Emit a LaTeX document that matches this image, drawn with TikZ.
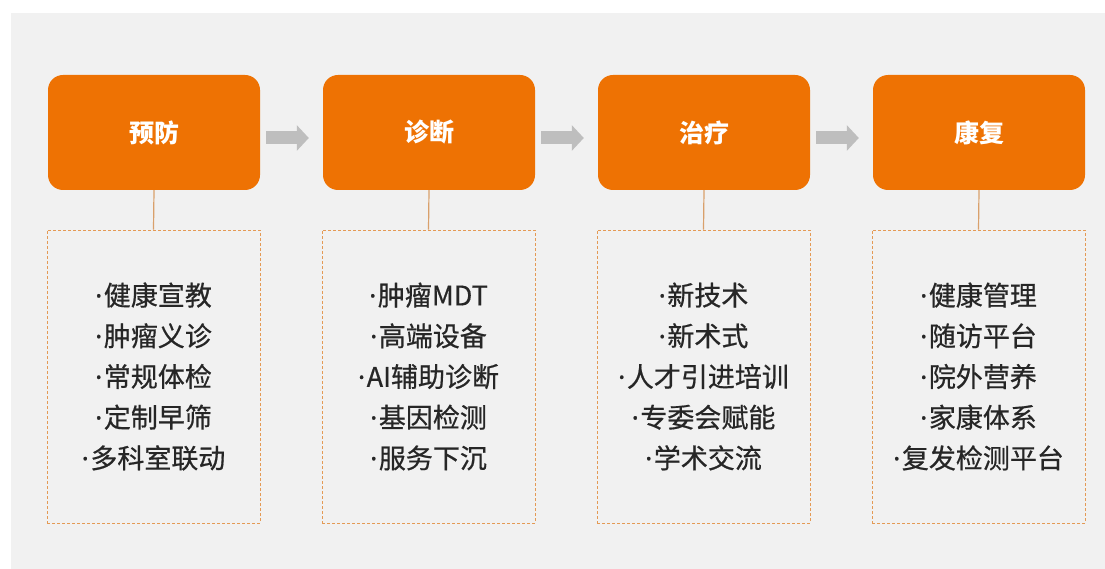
\documentclass[tikz,border=0pt]{standalone}
\usepackage{fontspec}
\setmainfont{Noto Sans CJK SC}
\newfontfamily\itemfont[FakeBold=0.6]{Noto Sans CJK SC}
\newfontfamily\dotfont[FakeBold=0.6]{Noto Sans}
\newcommand{\bul}{{\dotfont ·}\hspace{1.5pt}}
\usetikzlibrary{arrows.meta}
\definecolor{bgc}{HTML}{F1F1F1}
\definecolor{orc}{HTML}{EE7203}
\definecolor{dashc}{HTML}{E49A55}
\definecolor{linec}{HTML}{D9A06B}
\definecolor{arrc}{HTML}{BEBEBE}
\definecolor{txtc}{HTML}{262626}
\tikzset{
  titlebox/.style={fill=orc, draw=none, rounded corners=15pt, minimum width=212pt, minimum height=115pt, inner sep=0pt, text=white, font=\fontsize{25}{28}\selectfont\bfseries},
  listbox/.style={draw=dashc, dash pattern=on 3pt off 2pt, line width=0.8pt, minimum width=213pt, minimum height=293pt, inner sep=0pt, align=center, text=txtc, font=\itemfont\fontsize{27}{40.7}\selectfont},
  stem/.style={draw=linec, line width=1.2pt},
  flow/.style={draw=arrc, line width=13pt, -{Triangle[length=12pt 0 0, width=25pt 0 0]}, shorten <=6pt, shorten >=14pt}
}
\begin{document}
\begin{tikzpicture}[x=1pt,y=-1pt]
\useasboundingbox (0,0) rectangle (1105,569);
\fill[bgc] (11,13) rectangle (1105,569);
\node[titlebox] (t1) at (154,132.5) {预防};
\node[titlebox] (t2) at (429,132.5) {诊断};
\node[titlebox] (t3) at (704,132.5) {治疗};
\node[titlebox] (t4) at (979,132.5) {康复};
\node[listbox] (l1) at (153.5,376.5) {\bul 健康宣教\\\bul 肿瘤义诊\\\bul 常规体检\\\bul 定制早筛\\\bul 多科室联动};
\node[listbox] (l2) at (428.5,376.5) {\bul 肿瘤MDT\\\bul 高端设备\\\bul AI辅助诊断\\\bul 基因检测\\\bul 服务下沉};
\node[listbox] (l3) at (703.5,376.5) {\bul 新技术\\\bul 新术式\\\bul 人才引进培训\\\bul 专委会赋能\\\bul 学术交流};
\node[listbox] (l4) at (978.5,376.5) {\bul 健康管理\\\bul 随访平台\\\bul 院外营养\\\bul 家康体系\\\bul 复发检测平台};
\foreach \i in {1,2,3,4} {\draw[stem] (t\i.south) -- (l\i.north);}
\draw[flow] ([yshift=-5.5pt]t1.east) -- ([yshift=-5.5pt]t2.west);
\draw[flow] ([yshift=-5.5pt]t2.east) -- ([yshift=-5.5pt]t3.west);
\draw[flow] ([yshift=-5.5pt]t3.east) -- ([yshift=-5.5pt]t4.west);
\end{tikzpicture}
\end{document}
